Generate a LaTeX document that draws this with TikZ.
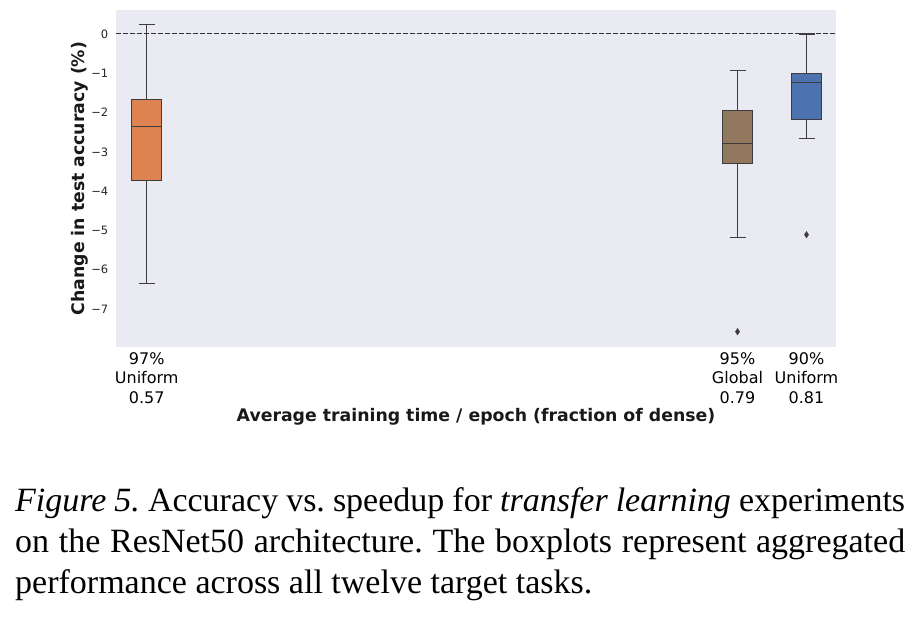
\documentclass[tikz,border=0pt]{standalone}
\usepackage{fontspec}
\setmainfont{Liberation Serif}
\newfontfamily\dv{DejaVu Sans}
\usetikzlibrary{shapes.geometric}
\frenchspacing
\definecolor{bgc}{HTML}{EAEAF2}
\definecolor{lnc}{HTML}{3D3D3D}
\definecolor{orng}{HTML}{DD8452}
\definecolor{brwn}{HTML}{937860}
\definecolor{blu}{HTML}{4C72B0}
\tikzset{
  boxst/.style={draw=lnc, line width=1.3pt},
  whisk/.style={draw=lnc, line width=1.2pt},
  ticklab/.style={font=\dv\fontsize{11.5}{13}\selectfont, text=black!85, anchor=east, inner sep=0pt},
  catlab/.style={font=\dv\fontsize{16}{19.5}\selectfont, align=center, inner sep=0pt},
  axl/.style={font=\dv\bfseries\fontsize{17.3}{20}\selectfont, text=black!90, inner sep=0pt},
  outl/.style={diamond, fill=lnc, inner sep=0pt, minimum width=5pt, minimum height=7.5pt},
  captxt/.style={font=\fontsize{34}{41}\selectfont, anchor=base west, inner sep=0pt}
}
\begin{document}
\begin{tikzpicture}[x=1pt,y=-1pt]
\useasboundingbox (0,0) rectangle (919,618);
% background
\fill[bgc] (116,10) rectangle (836,346.5);
% zero line
\coordinate (zl) at (116,34);
\coordinate (zr) at (836,34);
\draw[lnc!80!black, line width=1pt, dash pattern=on 5pt off 2pt] (zl) -- (zr);
% y tick labels
\foreach \v/\t in {0/0,1/−1,2/−2,3/−3,4/−4,5/−5,6/−6,7/−7}{
  \node[ticklab] (t\v) at (108.5,34+39.3*\v) {\t};
}
% ---- orange box
\coordinate (oT) at (146.7,24.3);
\coordinate (oB) at (146.7,283.3);
\draw[whisk] (oT) -- (146.7,99.3) (146.7,180.3) -- (oB);
\draw[whisk] ([xshift=-8pt]oT) -- ([xshift=8pt]oT);
\draw[whisk] ([xshift=-8pt]oB) -- ([xshift=8pt]oB);
\draw[boxst, fill=orng] (131.5,99.3) rectangle (161.5,180.3);
\draw[whisk] (131.5,126.3) -- (161.5,126.3);
% ---- brown box
\coordinate (bT) at (737.5,70.3);
\coordinate (bB) at (737.5,237.3);
\draw[whisk] (bT) -- (737.5,110.3) (737.5,163.3) -- (bB);
\draw[whisk] ([xshift=-8pt]bT) -- ([xshift=8pt]bT);
\draw[whisk] ([xshift=-8pt]bB) -- ([xshift=8pt]bB);
\draw[boxst, fill=brwn] (722.5,110.3) rectangle (752.5,163.3);
\draw[whisk] (722.5,143.3) -- (752.5,143.3);
\node[outl] (bo) at (737.5,331.7) {};
% ---- blue box
\coordinate (uT) at (806.5,34);
\coordinate (uB) at (806.5,138.3);
\draw[whisk] (uT) -- (806.5,73.3) (806.5,119.3) -- (uB);
\draw[whisk] ([xshift=-8pt]uT) -- ([xshift=8pt]uT);
\draw[whisk] ([xshift=-8pt]uB) -- ([xshift=8pt]uB);
\draw[boxst, fill=blu] (791.5,73.3) rectangle (821.5,119.3);
\draw[whisk] (791.5,82.3) -- (821.5,82.3);
\node[outl] (uo) at (806.5,234.7) {};
% category labels
\node[catlab] (c1) at (146.7,378) {97\%\\Uniform\\0.57};
\node[catlab] (c2) at (737.5,378) {95\%\\Global\\0.79};
\node[catlab] (c3) at (806.5,378) {90\%\\Uniform\\0.81};
% axis labels
\node[axl] (xl) at (476,417) {Average training time / epoch (fraction of dense)};
\node[axl, rotate=90] (yl) at (80,178.5) {Change in test accuracy (\%)};
% caption
\node[captxt] (l1) at (15,511) {\makebox[890pt][s]{\textit{Figure 5.} Accuracy vs. speedup for \textit{transfer learning} experiments}};
\node[captxt] (l2) at (15,552) {\makebox[890pt][s]{on the ResNet50 architecture. The boxplots represent aggregated}};
\node[captxt] (l3) at (15,593) {performance across all twelve target tasks.};
\end{tikzpicture}
\end{document}
